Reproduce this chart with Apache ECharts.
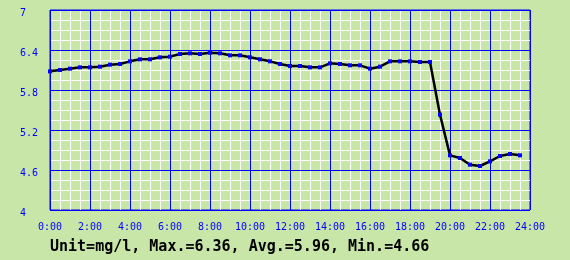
<!DOCTYPE html>
<html>
<head>
<meta charset="utf-8">
<script src="https://cdn.jsdelivr.net/npm/echarts@6/dist/echarts.min.js"></script>
<style>
html,body{margin:0;padding:0;background:#c8e6a8;}
#c{width:570px;height:260px;}
</style>
</head>
<body>
<div id="c"></div>
<script>
const times = [0,0.5,1,1.5,2,2.5,3,3.5,4,4.5,5,5.5,6,6.5,7,7.5,8,8.5,9,9.5,10,10.5,11,11.5,12,12.5,13,13.5,14,14.5,15,15.5,16,16.5,17,17.5,18,18.5,19,19.5,20,20.5,21,21.5,22,22.5,23,23.5];
const values = [6.08,6.10,6.12,6.14,6.14,6.15,6.18,6.19,6.23,6.26,6.26,6.29,6.30,6.34,6.35,6.34,6.36,6.35,6.32,6.32,6.29,6.26,6.23,6.19,6.16,6.16,6.14,6.14,6.20,6.19,6.17,6.17,6.12,6.15,6.23,6.23,6.23,6.22,6.22,5.43,4.82,4.78,4.68,4.66,4.73,4.81,4.84,4.82];
const footer = "Unit=mg/l, Max.=6.36, Avg.=5.96, Min.=4.66";
const xMin = 0, xMax = 24, xStep = 2, xMinor = 0.5;
const yMin = 4, yMax = 7, yStep = 0.6, yMinor = 0.15;

const BLUE = '#0000ff';
const chart = echarts.init(document.getElementById('c'), null, {renderer:'canvas'});
const mono = 'DejaVu Sans Mono';
chart.setOption({
  backgroundColor: '#c8e6a8',
  animation: false,
  grid: {left: 50, right: 40, top: 10, bottom: 50, show: true, borderColor: BLUE, borderWidth: 1, backgroundColor: 'transparent'},
  xAxis: [
    {type:'value', min:xMin, max:xMax, interval:xMinor, z:0,
     axisLine:{show:false}, axisTick:{show:false}, axisLabel:{show:false},
     splitLine:{show:true, lineStyle:{color:'#ffffff', width:1}}},
    {type:'value', min:xMin, max:xMax, interval:xStep, z:1, position:'bottom',
     axisLine:{show:false}, axisTick:{show:false},
     axisLabel:{color:BLUE, fontFamily:mono, fontSize:10, margin:12,
       formatter: v => v + ':00'},
     splitLine:{show:true, lineStyle:{color:BLUE, width:1}}}
  ],
  yAxis: [
    {type:'value', min:yMin, max:yMax, interval:yMinor, z:0,
     axisLine:{show:false}, axisTick:{show:false}, axisLabel:{show:false},
     splitLine:{show:true, lineStyle:{color:'#ffffff', width:1}}},
    {type:'value', min:yMin, max:yMax, interval:yStep, z:1, position:'left',
     axisLine:{show:false}, axisTick:{show:false},
     axisLabel:{color:BLUE, fontFamily:mono, fontSize:10, align:'left', margin:30,
       verticalAlign:'top', lineHeight:6,
       formatter: v => String(Math.round(v*10)/10)},
     splitLine:{show:true, lineStyle:{color:BLUE, width:1}}}
  ],
  graphic: [{
    type:'text', left:50, top:240, z:10,
    style:{text: footer, font:'bold 15px "DejaVu Sans Mono"', fill:'#000000'}
  }],
  series: [{
    type:'line', xAxisIndex:1, yAxisIndex:1, z:5,
    data: times.map((t,i) => [t, values[i]]),
    showAllSymbol: true, symbol:'rect', symbolSize:4,
    lineStyle:{color:'#000000', width:2.5},
    itemStyle:{color:BLUE, borderWidth:0},
    emphasis:{disabled:true}
  }]
});
</script>
</body>
</html>
